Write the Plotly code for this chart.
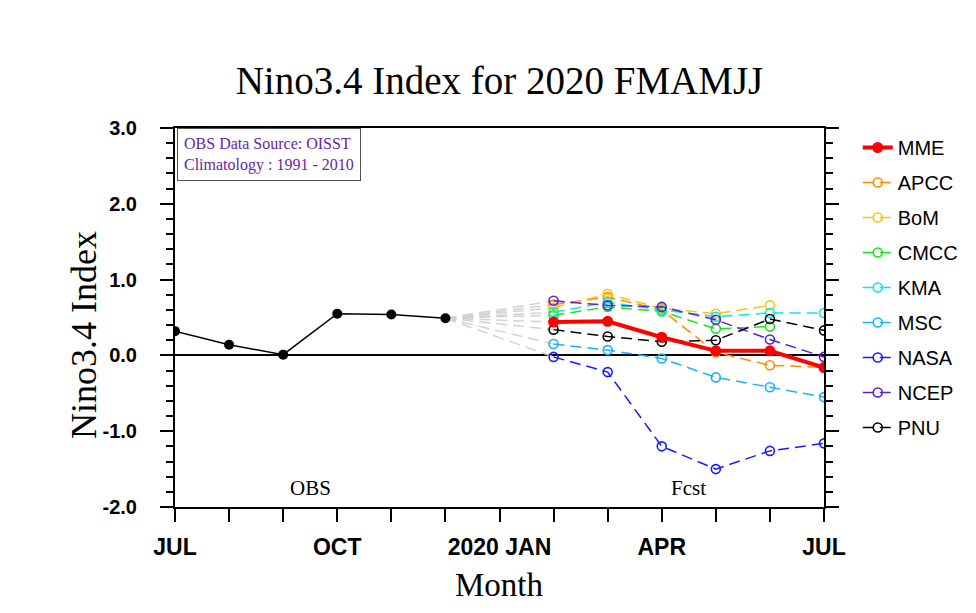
import plotly.graph_objects as go

# ---------------- data ----------------
month_labels = ["JUL", "AUG", "SEP", "OCT", "NOV", "DEC", "2020 JAN",
                "FEB", "MAR", "APR", "MAY", "JUN", "JUL"]
tick_text = ["JUL", "", "", "OCT", "", "", "2020 JAN", "", "", "APR", "", "", "JUL"]

obs_months = ["JUL", "AUG", "SEP", "OCT", "NOV", "DEC"]
obs_values = [0.32, 0.14, 0.01, 0.55, 0.54, 0.49]

fcst_months = ["FEB", "MAR", "APR", "MAY", "JUN", "JUL"]

model_names = ["APCC", "BoM", "CMCC", "KMA", "MSC", "NASA", "NCEP", "PNU"]
model_colors = ["#ff8c00", "#ffc400", "#19e619", "#00eaf0", "#14b4ff",
                "#1a1aff", "#5e1ed0", "#000000"]

mme = [0.44, 0.45, 0.24, 0.06, 0.06, -0.16]
apcc = [0.67, 0.77, 0.60, 0.04, -0.13, -0.16]
bom = [0.63, 0.81, 0.62, 0.55, 0.66, None]
cmcc = [0.53, 0.64, 0.58, 0.35, 0.38, None]
kma = [0.57, 0.70, 0.60, 0.51, 0.56, 0.56]
msc = [0.15, 0.07, -0.04, -0.29, -0.42, -0.55]
nasa = [-0.02, -0.22, -1.20, -1.50, -1.26, -1.16]
ncep = [0.72, 0.66, 0.64, 0.47, 0.21, -0.02]
pnu = [0.34, 0.25, 0.18, 0.20, 0.48, 0.33]
model_values = [apcc, bom, cmcc, kma, msc, nasa, ncep, pnu]

y_ticks = [3.0, 2.0, 1.0, 0.0, -1.0, -2.0]
y_tick_text = ["3.0", "2.0", "1.0", "0.0", "-1.0", "-2.0"]

# ---------------- helpers ----------------
def pos(labels, offset=0):
    # position of each month along the axis (months since the first JUL)
    out = []
    start = offset
    for lab in labels:
        i = month_labels.index(lab, start)
        out.append(i)
        start = i + 1
    return out

obs_x = pos(obs_months)
fcst_x = pos(fcst_months, 7)

serif = "Liberation Serif"
sans = "Liberation Sans"
dash_pat = "11px,6px"

fig = go.Figure()

# gray connectors from last observation to first forecast of every series
for vals in [mme] + model_values:
    fig.add_trace(go.Scatter(
        x=[obs_x[-1], fcst_x[0]], y=[obs_values[-1], vals[0]],
        mode="lines", line=dict(color="#d2d2d2", width=1.5, dash=dash_pat),
        showlegend=False, hoverinfo="skip"))

# observation
fig.add_trace(go.Scatter(
    x=obs_x, y=obs_values, mode="lines+markers",
    line=dict(color="black", width=1.5),
    marker=dict(color="black", size=10, symbol="circle"),
    showlegend=False))

# models
for name, col, vals in zip(model_names, model_colors, model_values):
    fig.add_trace(go.Scatter(
        x=fcst_x, y=vals, name=name, legendgroup=name,
        mode="lines+markers",
        line=dict(color=col, width=1.5, dash=dash_pat),
        marker=dict(symbol="circle-open", size=9, color=col,
                    line=dict(width=1.6, color=col))))

# MME
fig.add_trace(go.Scatter(
    x=fcst_x, y=mme, name="MME", legendgroup="MME",
    mode="lines+markers",
    line=dict(color="#ff0000", width=4),
    marker=dict(symbol="circle", size=11, color="#ff0000"),
    legendrank=1))

# page body adds an 8px offset; margins compensate so plot sits at 175..824 x 128..507
fig.update_layout(
    width=976, height=613,
    margin=dict(l=167, r=160, t=120, b=114),
    paper_bgcolor="white", plot_bgcolor="white",
    title=dict(text="Nino3.4 Index for 2020 FMAMJJ",
               font=dict(family=serif, size=39, color="black"),
               x=0.5, xref="paper", xanchor="center",
               y=1 - 72 / 613, yref="container", yanchor="middle"),
    legend=dict(x=1.052, xanchor="left", y=1.0, yanchor="top",
                font=dict(family=sans, size=20, color="black"),
                tracegroupgap=6, bgcolor="rgba(0,0,0,0)",
                itemwidth=30),
    showlegend=True,
)

fig.update_xaxes(
    range=[0, len(month_labels) - 1],
    tickmode="array", tickvals=list(range(len(month_labels))), ticktext=tick_text,
    ticks="outside", ticklen=13, tickwidth=2, tickcolor="black",
    tickfont=dict(family=sans, size=23, color="black", weight="bold"),
    ticklabelstandoff=5,
    showline=True, linecolor="black", linewidth=2, mirror=True,
    showgrid=False, zeroline=False,
)

fig.update_yaxes(
    range=[-2, 3],
    tickmode="array", tickvals=y_ticks, ticktext=y_tick_text,
    ticks="outside", ticklen=13, tickwidth=2, tickcolor="black",
    tickfont=dict(family=sans, size=20, color="black", weight="bold"),
    ticklabelstandoff=19,
    minor=dict(dtick=0.2, ticks="outside", ticklen=7, tickwidth=1.5,
               tickcolor="black", showgrid=False),
    showline=True, linecolor="black", linewidth=2, mirror="ticks",
    showgrid=False, zeroline=True, zerolinecolor="black", zerolinewidth=1.5,
)

annotations = [
    dict(text="OBS Data Source: OISST<br>Climatology : 1991 - 2010",
         xref="paper", yref="paper", x=0.003, y=1.0,
         xanchor="left", yanchor="top", align="left", showarrow=False,
         font=dict(family=serif, size=16, color="#6e1e9e"),
         bordercolor="#555555", borderwidth=1, borderpad=6, bgcolor="white"),
    dict(text="OBS", x=(obs_x[0] + obs_x[-1]) / 2, y=-1.75,
         xref="x", yref="y", showarrow=False,
         font=dict(family=serif, size=21, color="black")),
    dict(text="Fcst", x=(fcst_x[0] + fcst_x[-1]) / 2, y=-1.75,
         xref="x", yref="y", showarrow=False,
         font=dict(family=serif, size=21, color="black")),
    dict(text="Month", xref="paper", yref="paper", x=0.5, y=(507 - 585) / 379,
         xanchor="center", yanchor="middle", showarrow=False,
         font=dict(family=serif, size=33, color="black")),
    dict(text="Nino3.4 Index", xref="paper", yref="paper",
         x=(84 - 175) / 649, y=(507 - 335) / 379, textangle=-90,
         xanchor="center", yanchor="middle", showarrow=False,
         font=dict(family=serif, size=36, color="black")),
]
fig.update_layout(annotations=annotations)

fig.write_html("out.html")
